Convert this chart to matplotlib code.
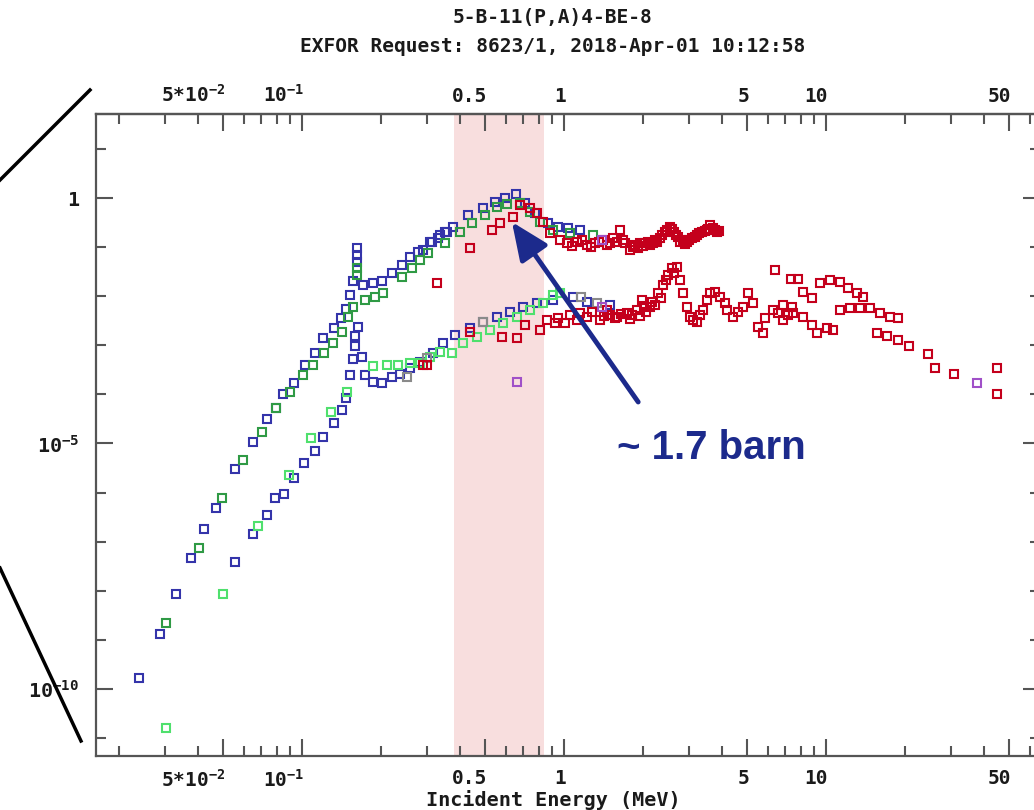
import numpy as np
import matplotlib
matplotlib.use('Agg')
import matplotlib.pyplot as plt
import matplotlib.transforms as mtransforms
from matplotlib.lines import Line2D
from matplotlib.ticker import FixedLocator, NullFormatter

# ---- data (energy in MeV, cross section in b) ----
blue_upper = [(0.0239, 1.67e-10), (0.0287, 1.32e-9), (0.0330, 8.6e-9), (0.0377, 4.66e-8),
              (0.0423, 1.82e-7), (0.0470, 4.86e-7), (0.0555, 3.03e-6), (0.0650, 1.07e-5),
              (0.0735, 3.16e-5), (0.0796, 5.3e-5), (0.0846, 1.02e-4), (0.0931, 1.71e-4),
              (0.1026, 3.97e-4), (0.112, 6.97e-4), (0.120, 1.41e-3), (0.132, 2.25e-3),
              (0.141, 3.6e-3), (0.147, 5.5e-3), (0.152, 1.06e-2), (0.157, 2.04e-2),
              (0.162, 0.096), (0.162, 0.069), (0.162, 0.0497), (0.171, 0.0169),
              (0.187, 0.0186), (0.202, 0.0204), (0.221, 0.0297), (0.241, 0.0432),
              (0.258, 0.0628), (0.277, 0.0795), (0.290, 0.087), (0.308, 0.127),
              (0.313, 0.127), (0.330, 0.153), (0.336, 0.176), (0.351, 0.203),
              (0.357, 0.203), (0.377, 0.257), (0.430, 0.451), (0.491, 0.625),
              (0.545, 0.83), (0.596, 1.0), (0.656, 1.21), (0.710, 0.79), (0.775, 0.495),
              (0.869, 0.31), (0.948, 0.257), (1.04, 0.245), (1.15, 0.223)]

blue_lower = [(0.0555, 3.86e-8), (0.0650, 1.44e-7), (0.0735, 3.5e-7), (0.0788, 7.76e-7),
              (0.0853, 9.4e-7), (0.0931, 1.98e-6), (0.102, 4.0e-6), (0.112, 7.0e-6),
              (0.120, 1.36e-5), (0.132, 2.6e-5), (0.142, 4.8e-5), (0.147, 8.4e-5),
              (0.152, 2.48e-4), (0.157, 5.3e-4), (0.169, 5.8e-4), (0.159, 9.7e-4),
              (0.159, 1.55e-3), (0.164, 2.36e-3), (0.174, 2.48e-4), (0.187, 1.79e-4),
              (0.202, 1.71e-4), (0.221, 2.26e-4), (0.237, 2.6e-4), (0.258, 3.45e-4),
              (0.282, 4.57e-4), (0.316, 6.97e-4), (0.345, 1.11e-3), (0.384, 1.62e-3),
              (0.438, 2.25e-3), (0.491, 2.98e-3), (0.555, 3.77e-3), (0.622, 4.77e-3),
              (0.698, 6.0e-3), (0.789, 7.3e-3), (0.908, 8.4e-3), (1.08, 9.6e-3),
              (1.22, 7.6e-3), (1.50, 6.6e-3)]

green_upper = [(0.0303, 2.2e-9), (0.0404, 7.4e-8), (0.0495, 7.8e-7), (0.0596, 4.6e-6),
               (0.0703, 1.71e-5), (0.0796, 5.3e-5), (0.090, 1.12e-4), (0.101, 2.48e-4),
               (0.110, 3.97e-4), (0.121, 6.97e-4), (0.131, 1.11e-3), (0.142, 1.87e-3),
               (0.150, 3.77e-3), (0.157, 6.0e-3), (0.162, 0.0375), (0.162, 0.027),
               (0.174, 8.4e-3), (0.190, 9.6e-3), (0.204, 0.0116), (0.241, 0.0246),
               (0.263, 0.0375), (0.282, 0.0546), (0.303, 0.0759), (0.351, 0.121),
               (0.401, 0.203), (0.446, 0.31), (0.499, 0.451), (0.555, 0.656),
               (0.606, 0.755), (0.679, 0.79), (0.742, 0.519), (0.810, 0.325),
               (0.908, 0.223), (1.05, 0.194), (1.29, 0.176)]

green_lower = [(0.0303, 1.61e-11), (0.0499, 8.6e-9), (0.0679, 2.09e-7), (0.0891, 2.28e-6),
               (0.108, 1.29e-5), (0.129, 4.38e-5), (0.149, 1.12e-4), (0.187, 3.79e-4),
               (0.211, 3.97e-4), (0.232, 3.97e-4), (0.258, 4.36e-4), (0.282, 4.36e-4),
               (0.308, 5.78e-4), (0.336, 7.3e-4), (0.374, 6.97e-4), (0.412, 1.11e-3),
               (0.466, 1.48e-3), (0.522, 2.05e-3), (0.585, 2.85e-3), (0.662, 3.77e-3),
               (0.742, 5.2e-3), (0.832, 7.3e-3), (0.908, 0.0106), (0.966, 0.0116)]

red_upper = [(0.327, 0.0186), (0.438, 0.096), (0.531, 0.223), (0.570, 0.31), (0.638, 0.41),
             (0.679, 0.72), (0.742, 0.625), (0.789, 0.495), (0.832, 0.325), (0.885, 0.194),
             (0.966, 0.14), (1.03, 0.121), (1.07, 0.105), (1.12, 0.127), (1.17, 0.14),
             (1.22, 0.110), (1.27, 0.10), (1.31, 0.121), (1.36, 0.127), (1.41, 0.14),
             (1.46, 0.110), (1.50, 0.121), (1.54, 0.153), (1.59, 0.127), (1.64, 0.223),
             (1.68, 0.14), (1.71, 0.121), (1.79, 0.087), (1.83, 0.10), (1.87, 0.110),
             (1.91, 0.098), (1.95, 0.121), (2.00, 0.105), (2.04, 0.121), (2.09, 0.127),
             (2.13, 0.110), (2.18, 0.121), (2.22, 0.14), (2.27, 0.13), (2.32, 0.153),
             (2.37, 0.176), (2.43, 0.203), (2.48, 0.223), (2.54, 0.257), (2.58, 0.23),
             (2.63, 0.203), (2.68, 0.176), (2.72, 0.161), (2.78, 0.125), (2.84, 0.14),
             (2.90, 0.115), (2.95, 0.127), (3.01, 0.14), (3.08, 0.153), (3.15, 0.16),
             (3.22, 0.176), (3.29, 0.19), (3.36, 0.203), (3.44, 0.21), (3.51, 0.223),
             (3.56, 0.23), (3.61, 0.282), (3.71, 0.245), (3.78, 0.22), (3.84, 0.203),
             (3.90, 0.21)]

red_lower = [(0.290, 3.97e-4), (0.301, 3.97e-4), (0.438, 1.87e-3), (0.580, 1.48e-3),
             (0.662, 1.41e-3), (0.710, 2.59e-3), (0.810, 2.05e-3), (0.861, 3.27e-3),
             (0.924, 2.85e-3), (0.95, 3.6e-3), (1.01, 2.85e-3), (1.05, 4.1e-3),
             (1.12, 3.27e-3), (1.15, 4.5e-3), (1.22, 3.77e-3), (1.28, 4.8e-3),
             (1.37, 3.27e-3), (1.42, 3.9e-3), (1.46, 5.2e-3), (1.50, 4.14e-3), (1.57, 3.6e-3),
             (1.59, 3.77e-3), (1.65, 4.3e-3), (1.74, 4.55e-3), (1.78, 3.5e-3), (1.82, 4.14e-3),
             (1.90, 5.2e-3), (1.95, 4.0e-3), (1.99, 8.4e-3), (2.02, 6.2e-3), (2.06, 4.77e-3),
             (2.13, 6.0e-3), (2.17, 7.6e-3), (2.22, 6.6e-3), (2.28, 0.0116), (2.35, 9.2e-3),
             (2.39, 0.0169), (2.45, 0.021), (2.49, 0.027), (2.58, 0.0375), (2.62, 0.030),
             (2.70, 0.0393), (2.77, 0.0214), (2.84, 0.0116), (2.95, 6.0e-3), (3.03, 3.77e-3),
             (3.11, 3.27e-3), (3.22, 2.98e-3), (3.30, 4.14e-3), (3.40, 5.2e-3),
             (3.51, 8.4e-3), (3.61, 0.0116), (3.77, 0.0122), (3.94, 9.6e-3),
             (4.12, 7.3e-3), (4.19, 5.2e-3), (4.42, 3.77e-3), (4.61, 4.77e-3),
             (4.82, 6.0e-3), (5.04, 0.0116), (5.26, 7.3e-3), (5.50, 2.36e-3),
             (5.75, 1.78e-3), (5.85, 3.6e-3), (6.28, 5.2e-3), (6.56, 4.55e-3),
             (6.86, 3.27e-3), (6.86, 6.6e-3), (7.16, 4.14e-3), (7.42, 6.0e-3),
             (7.48, 4.55e-3), (8.17, 3.77e-3), (8.84, 2.59e-3), (9.24, 1.78e-3),
             (10.1, 2.25e-3), (10.6, 2.05e-3)]

red_high = [(6.38, 0.0342), (7.35, 0.0224), (7.82, 0.0224), (8.17, 0.0122), (8.84, 9.2e-3),
            (9.49, 0.0186), (10.4, 0.0214), (11.3, 0.0195), (12.1, 0.0147), (13.1, 0.0116),
            (13.8, 9.6e-3), (11.3, 5.2e-3), (12.4, 5.75e-3), (13.5, 5.75e-3), (14.7, 5.75e-3),
            (16.1, 4.55e-3), (17.5, 3.77e-3), (18.8, 3.6e-3), (15.7, 1.78e-3), (17.1, 1.55e-3),
            (18.8, 1.28e-3), (20.7, 9.7e-4), (24.5, 6.65e-4), (26.1, 3.45e-4), (30.8, 2.6e-4),
            (45.0, 3.45e-4), (45.0, 1.02e-4)]

gray_pts = [(0.252, 2.26e-4), (0.30, 5.5e-4), (0.491, 2.98e-3), (1.16, 9.6e-3), (1.34, 7.3e-3)]
violet_pts = [(0.662, 1.79e-4), (1.40, 0.14), (1.40, 6.0e-3), (37.7, 1.71e-4)]

x_major = [0.05, 0.1, 0.5, 1, 5, 10, 50]
x_labels = ['5*10$^{-2}$', '10$^{-1}$', '0.5', '1', '5', '10', '50']
y_major = [1e-10, 1e-5, 1]
y_labels = ['10$^{-10}$', '10$^{-5}$', '1']

W, H = 1034, 810
MONO = 'DejaVu Sans Mono'
plt.rcParams['mathtext.fontset'] = 'custom'
plt.rcParams['mathtext.rm'] = 'DejaVu Sans Mono:bold'
plt.rcParams['mathtext.bf'] = 'DejaVu Sans Mono:bold'
plt.rcParams['mathtext.it'] = 'DejaVu Sans Mono:bold'
plt.rcParams['font.family'] = MONO
plt.rcParams['font.weight'] = 'bold'

AXC = '#555555'
TXT = '#1a1a1a'
NAVY = '#1c2a8c'

fig = plt.figure(figsize=(W / 100, H / 100), dpi=100)
ax = fig.add_axes([96 / W, 1 - 756 / H, (1040 - 96) / W, (756 - 114) / H])
ax.set_xscale('log')
ax.set_yscale('log')
ax.set_xlim(10 ** -1.786, 10 ** ((1040 - 564) / 262))
ax.set_ylim(10 ** -11.365, 10 ** 1.711)

ax.axvspan(0.38, 0.84, color='#f8dede', lw=0, zorder=0)


def squares(pts, color):
    arr = np.array(pts)
    ax.plot(arr[:, 0], arr[:, 1], ls='none', marker='s', mfc='none', mec=color,
            ms=6.3, mew=1.5, zorder=3)


squares(blue_upper, '#3434aa')
squares(blue_lower, '#3434aa')
squares(green_upper, '#2f9a45')
squares(green_lower, '#4fe06d')
squares(gray_pts, '#8a8a8a')
squares(red_upper, '#c4001c')
squares(red_lower, '#c4001c')
squares(red_high, '#c4001c')
squares(violet_pts, '#a050c8')

# ticks
minor_x = [m * 10.0 ** k for k in range(-2, 2) for m in (2, 3, 4, 6, 7, 8, 9)]
ax.xaxis.set_major_locator(FixedLocator(x_major))
ax.set_xticklabels(x_labels)
ax.xaxis.set_minor_locator(FixedLocator(minor_x))
ax.xaxis.set_minor_formatter(NullFormatter())
ax.yaxis.set_major_locator(FixedLocator(y_major))
ax.set_yticklabels(y_labels)
ax.yaxis.set_minor_locator(FixedLocator([10.0 ** k for k in range(-11, 2) if k not in (-10, -5, 0)]))
ax.yaxis.set_minor_formatter(NullFormatter())

ax.tick_params(which='both', direction='in', color=AXC, width=1.5, labelsize=14,
               labelcolor=TXT, bottom=True, left=True, right=True, top=False)
ax.tick_params(which='major', length=12)
ax.tick_params(which='minor', length=7)
ax.tick_params(axis='x', pad=9)
ax.tick_params(axis='y', pad=12, labelsize=14.5)

sec = ax.secondary_xaxis('top')
sec.xaxis.set_major_locator(FixedLocator(x_major))
sec.set_xticklabels(x_labels)
sec.xaxis.set_minor_locator(FixedLocator(minor_x))
sec.xaxis.set_minor_formatter(NullFormatter())
sec.tick_params(which='both', direction='in', color=AXC, width=1.5, labelsize=14,
                labelcolor=TXT, pad=6)
sec.tick_params(which='major', length=12)
sec.tick_params(which='minor', length=7)

for a in (ax, sec):
    for sp in a.spines.values():
        sp.set_color(AXC)
        sp.set_linewidth(1.6)

shift = mtransforms.ScaledTranslation(2 / 100, 0, fig.dpi_scale_trans)
for lab in list(ax.get_xticklabels()) + list(sec.get_xticklabels()):
    lab.set_horizontalalignment('right')
    lab.set_transform(lab.get_transform() + shift)

# arrow and note
ax.annotate('', xy=(0.633, 0.325), xytext=(1.92, 7.0e-5),
            arrowprops=dict(arrowstyle='-|>,head_length=2.3,head_width=1.0',
                            color=NAVY, lw=3.5, shrinkA=0, shrinkB=0), zorder=5)
ax.text(1.59, 8.1e-6, '~ 1.7 barn', fontsize=29, fontweight='bold', color=NAVY,
        family='Liberation Sans', ha='left', va='center', zorder=5)

# titles and axis label
fig.text(553 / W, 1 - 18 / H, '5-B-11(P,A)4-BE-8', ha='center', va='center',
         fontsize=14, fontweight='bold', color=TXT)
fig.text(553 / W, 1 - 47 / H, 'EXFOR Request: 8623/1, 2018-Apr-01 10:12:58', ha='center',
         va='center', fontsize=14, fontweight='bold', color=TXT)
fig.text(553 / W, 1 - 800 / H, 'Incident Energy (MeV)', ha='center', va='center',
         fontsize=14.5, fontweight='bold', color=TXT)

# zoom-callout lines on the left edge
fig.add_artist(Line2D([0, 90 / W], [1 - 180 / H, 1 - 90 / H], transform=fig.transFigure,
                      color='black', lw=2.5))
fig.add_artist(Line2D([0, 81 / W], [1 - 568 / H, 1 - 741 / H], transform=fig.transFigure,
                      color='black', lw=2.5))

fig.savefig('out.png', dpi=100)
